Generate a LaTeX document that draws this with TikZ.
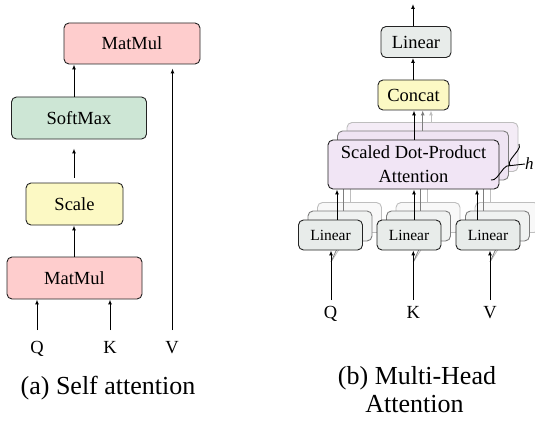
\documentclass[tikz,border=0pt]{standalone}
\usepackage{fontspec}
\setmainfont{Liberation Serif}
\usetikzlibrary{arrows.meta,decorations.pathreplacing}
\definecolor{cborder}{RGB}{35,35,35}
\definecolor{cpink}{RGB}{254,205,205}
\definecolor{cgreen}{RGB}{205,230,213}
\definecolor{cyellow}{RGB}{252,249,196}
\definecolor{clin}{RGB}{232,236,234}
\definecolor{clinb}{RGB}{240,242,241}
\definecolor{clinc}{RGB}{248,248,248}
\definecolor{cpur}{RGB}{241,229,245}
\definecolor{cpurb}{RGB}{239,228,243}
\definecolor{cpurc}{RGB}{244,236,246}
\definecolor{gb}{RGB}{125,125,125}
\definecolor{gc}{RGB}{190,190,190}
\begin{document}
\begin{tikzpicture}[x=1pt,y=-1pt,
  box/.style={draw=cborder, line width=0.9pt, rounded corners=5pt, inner sep=0pt, align=center,
    font=\fontsize{18.5}{24}\selectfont},
  smallbox/.style={box, minimum width=64pt, minimum height=30pt, font=\fontsize{15.5}{18}\selectfont},
  sdpbox/.style={box, minimum width=171pt, minimum height=49pt},
  arr/.style={line width=1pt, -{Latex[length=5pt,width=4pt]}},
  lbl/.style={inner sep=0pt, anchor=base, font=\fontsize{18.5}{22}\selectfont},
  captxt/.style={inner sep=0pt, anchor=base, font=\fontsize{26}{27.5}\selectfont},
]
\useasboundingbox (0,0) rectangle (535,425);

% ---------------- (a) Self attention ----------------
\node[box, fill=cpink, minimum width=136pt, minimum height=41pt] (mmtop) at (132,43.5) {MatMul};
\node[box, fill=cgreen, minimum width=135pt, minimum height=42pt] (smx) at (79,118) {SoftMax};
\node[box, fill=cyellow, minimum width=97pt, minimum height=42pt] (scl) at (74.5,204) {Scale};
\node[box, fill=cpink, minimum width=135pt, minimum height=42pt] (mmbot) at (74.5,278) {MatMul};

\coordinate (ax) at (74,0);
\draw[arr] (mmbot.north -| ax) -- (scl.south -| ax);
\draw[arr, shorten <=5pt, shorten >=9pt] (scl.north -| ax) -- (smx.south -| ax);
\draw[arr] (smx.north -| ax) -- (mmtop.south -| ax);

\coordinate (qa) at (37,330);
\coordinate (ka) at (110,330);
\coordinate (va) at (172.5,330);
\draw[arr] (qa) -- (qa |- mmbot.south);
\draw[arr] (ka) -- (ka |- mmbot.south);
\draw[arr, shorten >=4pt] (va) -- (va |- mmtop.south);
\node[lbl] (ql) at (37,353) {Q};
\node[lbl] (kl) at (110,353) {K};
\node[lbl] (vl) at (172,353) {V};

\node[captxt] (capa) at (108,394.5) {(a) Self attention};

% ---------------- (b) Multi-Head Attention ----------------
% back layer
\node[sdpbox, fill=cpurc, draw=gc] (sdpc) at (432.5,147) {};
\node[smallbox, fill=clinc, draw=gc] (lc1) at (349.5,217.5) {};
\node[smallbox, fill=clinc, draw=gc] (lc2) at (428,217.5) {};
\node[smallbox, fill=clinc, draw=gc] (lc3) at (507,217.5) {};
% middle layer
\node[sdpbox, fill=cpurb, draw=gb] (sdpb) at (423,155.5) {};
\node[smallbox, fill=clinb, draw=gb] (lb1) at (340,226) {};
\node[smallbox, fill=clinb, draw=gb] (lb2) at (418.5,226) {};
\node[smallbox, fill=clinb, draw=gb] (lb3) at (497.5,226) {};

% front top boxes
\node[box, fill=clin, minimum width=70pt, minimum height=31pt] (lin) at (416,42) {Linear};
\node[box, fill=cyellow, minimum width=71pt, minimum height=30pt] (cc) at (413.5,95) {Concat};

% grey arrows from back heads to concat
\coordinate (gx2) at (422.7,0);
\coordinate (gx3) at (431,0);
\draw[arr, draw=gb, fill=gb] (sdpb.north -| gx2) -- (cc.south -| gx2);
\draw[arr, draw=gc, fill=gc] (sdpc.north -| gx3) -- (cc.south -| gx3);

% grey connectors linear(back) -> attention(back)
\foreach \n/\x in {1/337,2/414,3/477}{
  \coordinate (gb\n) at ({\x+6.5},0);
  \coordinate (gc\n) at ({\x+13},0);
  \draw[line width=1pt, draw=gb] (lb\n.north -| gb\n) -- (sdpb.south -| gb\n);
  \draw[line width=1pt, draw=gc] (lc\n.north -| gc\n) -- (sdpc.south -| gc\n);
}

% input arrows coordinates
\coordinate (qin) at (331,300);
\coordinate (kin) at (413.3,300);
\coordinate (vin) at (490,300);
\foreach \c in {qin,kin,vin}{
  \draw[line width=0.8pt, draw=gc] (\c) ++(0,-38) -- ++(19,-30);
  \draw[line width=0.8pt, draw=gb] (\c) ++(0,-38) -- ++(9.5,-21);
}

% front layer
\node[sdpbox, fill=cpur] (sdp) at (413.5,164.5) {Scaled Dot-Product\\Attention};
\node[smallbox, fill=clin] (l1) at (330.5,235) {Linear};
\node[smallbox, fill=clin] (l2) at (409,235) {Linear};
\node[smallbox, fill=clin] (l3) at (488,235) {Linear};

\coordinate (top) at (413,4);
\draw[arr] (lin.north -| top) -- (top);
\draw[arr] (cc.north -| top) -- (lin.south -| top);
\coordinate (bx) at (414,0);
\draw[arr] (sdp.north -| bx) -- (cc.south -| bx);

\coordinate (x1) at (337,0);
\coordinate (x2) at (414,0);
\coordinate (x3) at (477,0);
\draw[arr] (l1.north -| x1) -- (sdp.south -| x1);
\draw[arr] (l2.north -| x2) -- (sdp.south -| x2);
\draw[arr] (l3.north -| x3) -- (sdp.south -| x3);

\draw[arr] (qin) -- (qin |- l1.south);
\draw[arr] (kin) -- (kin |- l2.south);
\draw[arr] (vin) -- (vin |- l3.south);
\node[lbl] (qr) at (330.5,318) {Q};
\node[lbl] (kr) at (413.3,318) {K};
\node[lbl] (vr) at (490,318) {V};

% brace and h
\draw[line width=0.9pt, decorate, decoration={brace, amplitude=6pt}] (519,144) -- (491,180);
\coordinate (btip) at (509.7,165.7);
\node[inner sep=0pt, anchor=west, font=\fontsize{17}{20}\itshape] (hl) at (525,164) {h};
\draw[line width=0.9pt] (btip) -- (hl.west);

\node[captxt] (capb1) at (417,384.5) {(b) Multi-Head};
\node[captxt] (capb2) at (414.5,412) {Attention};
\end{tikzpicture}
\end{document}
